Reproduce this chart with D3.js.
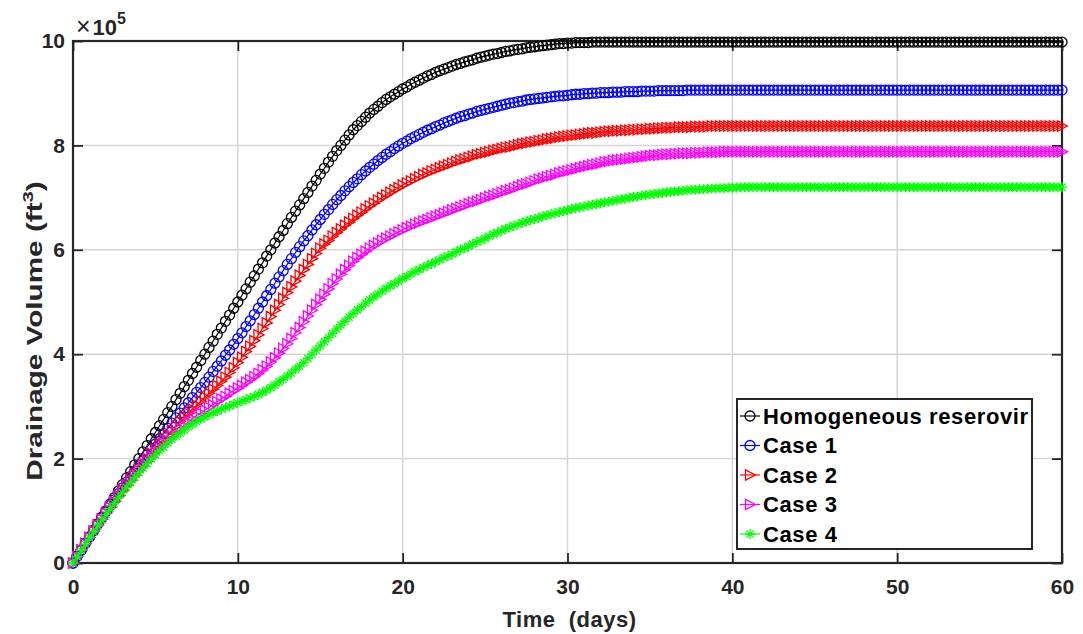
<!DOCTYPE html>
<html>
<head>
<meta charset="utf-8">
<script src="https://cdn.jsdelivr.net/npm/d3@7/dist/d3.min.js"></script>
<style>
  body { margin: 0; background: #ffffff; }
  svg { display: block; }
</style>
</head>
<body>
<svg id="chart" width="1083" height="634"></svg>
<script>
// Drainage volume (x 1e5 ft^3) sampled every quarter day from 0 to 60 days
const timeStep = 0.25;

const homogeneous = [
  0.00,0.13,0.25,0.38,0.50,0.63,0.75,0.88,
  1.00,1.13,1.25,1.38,1.50,1.63,1.75,1.88,
  2.00,2.13,2.25,2.38,2.50,2.63,2.75,2.88,
  3.00,3.13,3.25,3.38,3.50,3.63,3.75,3.88,
  4.00,4.13,4.25,4.38,4.50,4.63,4.75,4.88,
  5.00,5.13,5.25,5.38,5.50,5.63,5.75,5.88,
  6.00,6.13,6.25,6.37,6.50,6.62,6.74,6.86,
  6.98,7.10,7.22,7.33,7.45,7.56,7.68,7.79,
  7.90,8.00,8.10,8.20,8.30,8.38,8.46,8.54,
  8.62,8.69,8.75,8.82,8.88,8.93,8.98,9.03,
  9.08,9.12,9.17,9.21,9.25,9.29,9.33,9.36,
  9.40,9.43,9.46,9.49,9.52,9.55,9.57,9.60,
  9.62,9.64,9.67,9.69,9.71,9.73,9.75,9.76,
  9.78,9.80,9.81,9.83,9.84,9.85,9.87,9.88,
  9.89,9.90,9.91,9.92,9.93,9.94,9.95,9.95,
  9.96,9.96,9.97,9.97,9.97,9.97,9.98,9.98,
  9.98,9.98,9.98,9.98,9.98,9.98,9.98,9.98,
  9.98,9.98,9.98,9.98,9.98,9.98,9.98,9.98,
  9.98,9.98,9.98,9.98,9.98,9.98,9.98,9.98,
  9.98,9.98,9.98,9.98,9.98,9.98,9.98,9.98,
  9.98,9.98,9.98,9.98,9.98,9.98,9.98,9.98,
  9.98,9.98,9.98,9.98,9.98,9.98,9.98,9.98,
  9.98,9.98,9.98,9.98,9.98,9.98,9.98,9.98,
  9.98,9.98,9.98,9.98,9.98,9.98,9.98,9.98,
  9.98,9.98,9.98,9.98,9.98,9.98,9.98,9.98,
  9.98,9.98,9.98,9.98,9.98,9.98,9.98,9.98,
  9.98,9.98,9.98,9.98,9.98,9.98,9.98,9.98,
  9.98,9.98,9.98,9.98,9.98,9.98,9.98,9.98,
  9.98,9.98,9.98,9.98,9.98,9.98,9.98,9.98,
  9.98,9.98,9.98,9.98,9.98,9.98,9.98,9.98,
  9.98
];

const case1 = [
  0.00,0.13,0.25,0.38,0.50,0.62,0.74,0.86,
  0.98,1.10,1.21,1.33,1.44,1.55,1.66,1.76,
  1.87,1.97,2.07,2.18,2.28,2.38,2.48,2.58,
  2.68,2.78,2.87,2.97,3.07,3.17,3.27,3.36,
  3.46,3.56,3.67,3.77,3.87,3.98,4.08,4.19,
  4.30,4.41,4.53,4.64,4.76,4.88,5.00,5.12,
  5.24,5.36,5.48,5.60,5.72,5.83,5.95,6.06,
  6.17,6.27,6.38,6.48,6.58,6.68,6.77,6.87,
  6.96,7.04,7.13,7.21,7.29,7.36,7.44,7.51,
  7.58,7.64,7.71,7.77,7.83,7.88,7.94,7.99,
  8.04,8.08,8.13,8.17,8.21,8.25,8.29,8.32,
  8.36,8.39,8.43,8.46,8.49,8.52,8.55,8.57,
  8.60,8.62,8.65,8.67,8.69,8.71,8.73,8.75,
  8.77,8.79,8.81,8.82,8.84,8.85,8.87,8.88,
  8.89,8.90,8.91,8.92,8.93,8.94,8.95,8.95,
  8.96,8.97,8.98,8.98,8.99,8.99,9.00,9.00,
  9.01,9.01,9.01,9.02,9.02,9.02,9.03,9.03,
  9.03,9.03,9.04,9.04,9.04,9.04,9.05,9.05,
  9.05,9.05,9.05,9.05,9.05,9.06,9.06,9.06,
  9.06,9.06,9.06,9.06,9.06,9.06,9.06,9.06,
  9.06,9.06,9.06,9.06,9.06,9.06,9.06,9.06,
  9.06,9.06,9.06,9.06,9.06,9.06,9.06,9.06,
  9.06,9.06,9.06,9.06,9.06,9.06,9.06,9.06,
  9.06,9.06,9.06,9.06,9.06,9.06,9.06,9.06,
  9.06,9.06,9.06,9.06,9.06,9.06,9.06,9.06,
  9.06,9.06,9.06,9.06,9.06,9.06,9.06,9.06,
  9.06,9.06,9.06,9.06,9.06,9.06,9.06,9.06,
  9.06,9.06,9.06,9.06,9.06,9.06,9.06,9.06,
  9.06,9.06,9.06,9.06,9.06,9.06,9.06,9.06,
  9.06,9.06,9.06,9.06,9.06,9.06,9.06,9.06,
  9.06
];

const case2 = [
  0.00,0.12,0.25,0.37,0.49,0.61,0.73,0.84,
  0.96,1.07,1.18,1.29,1.40,1.50,1.61,1.71,
  1.81,1.91,2.00,2.10,2.19,2.28,2.37,2.45,
  2.54,2.62,2.71,2.79,2.87,2.95,3.02,3.10,
  3.18,3.25,3.33,3.40,3.48,3.56,3.65,3.74,
  3.84,3.94,4.05,4.15,4.26,4.37,4.49,4.60,
  4.72,4.84,4.95,5.07,5.18,5.29,5.40,5.51,
  5.62,5.72,5.83,5.93,6.03,6.11,6.18,6.26,
  6.33,6.40,6.47,6.53,6.60,6.66,6.72,6.78,
  6.84,6.89,6.95,7.00,7.05,7.10,7.15,7.19,
  7.24,7.28,7.32,7.36,7.40,7.44,7.47,7.51,
  7.54,7.57,7.60,7.63,7.66,7.69,7.72,7.74,
  7.77,7.79,7.82,7.84,7.86,7.88,7.90,7.92,
  7.94,7.96,7.97,7.99,8.01,8.03,8.04,8.06,
  8.07,8.09,8.10,8.12,8.13,8.14,8.16,8.17,
  8.18,8.19,8.20,8.21,8.22,8.23,8.24,8.24,
  8.25,8.26,8.27,8.27,8.28,8.28,8.29,8.29,
  8.30,8.30,8.31,8.31,8.32,8.32,8.33,8.33,
  8.34,8.34,8.34,8.35,8.35,8.35,8.35,8.36,
  8.36,8.36,8.36,8.37,8.37,8.37,8.37,8.37,
  8.37,8.37,8.37,8.37,8.37,8.37,8.37,8.37,
  8.37,8.37,8.37,8.37,8.37,8.37,8.37,8.37,
  8.37,8.37,8.37,8.37,8.37,8.37,8.37,8.37,
  8.37,8.37,8.37,8.37,8.37,8.37,8.37,8.37,
  8.37,8.37,8.37,8.37,8.37,8.37,8.37,8.37,
  8.37,8.37,8.37,8.37,8.37,8.37,8.37,8.37,
  8.37,8.37,8.37,8.37,8.37,8.37,8.37,8.37,
  8.37,8.37,8.37,8.37,8.37,8.37,8.37,8.37,
  8.37,8.37,8.37,8.37,8.37,8.37,8.37,8.37,
  8.37,8.37,8.37,8.37,8.37,8.37,8.37,8.37,
  8.37
];

const case3 = [
  0.00,0.12,0.25,0.37,0.49,0.61,0.72,0.84,
  0.95,1.06,1.17,1.27,1.38,1.48,1.58,1.67,
  1.77,1.86,1.95,2.03,2.12,2.20,2.28,2.35,
  2.43,2.50,2.57,2.63,2.70,2.76,2.82,2.87,
  2.93,2.98,3.03,3.09,3.14,3.19,3.25,3.30,
  3.35,3.40,3.46,3.51,3.57,3.63,3.70,3.77,
  3.85,3.93,4.02,4.11,4.20,4.30,4.41,4.51,
  4.62,4.73,4.84,4.95,5.05,5.15,5.25,5.35,
  5.44,5.53,5.62,5.70,5.78,5.85,5.91,5.97,
  6.03,6.08,6.13,6.18,6.22,6.26,6.30,6.34,
  6.38,6.42,6.45,6.49,6.52,6.55,6.58,6.61,
  6.64,6.67,6.70,6.73,6.76,6.79,6.82,6.85,
  6.88,6.91,6.93,6.96,6.99,7.02,7.04,7.07,
  7.10,7.13,7.15,7.18,7.21,7.24,7.26,7.29,
  7.32,7.35,7.37,7.40,7.42,7.44,7.47,7.49,
  7.51,7.53,7.55,7.57,7.59,7.61,7.63,7.64,
  7.66,7.68,7.69,7.71,7.72,7.73,7.74,7.75,
  7.76,7.77,7.78,7.79,7.80,7.81,7.81,7.82,
  7.83,7.83,7.84,7.84,7.85,7.85,7.85,7.86,
  7.86,7.86,7.87,7.87,7.87,7.87,7.88,7.88,
  7.88,7.88,7.88,7.88,7.88,7.88,7.88,7.88,
  7.88,7.88,7.88,7.88,7.88,7.88,7.88,7.88,
  7.88,7.88,7.88,7.88,7.88,7.88,7.88,7.88,
  7.88,7.88,7.88,7.88,7.88,7.88,7.88,7.88,
  7.88,7.88,7.88,7.88,7.88,7.88,7.88,7.88,
  7.88,7.88,7.88,7.88,7.88,7.88,7.88,7.88,
  7.88,7.88,7.88,7.88,7.88,7.88,7.88,7.88,
  7.88,7.88,7.88,7.88,7.88,7.88,7.88,7.88,
  7.88,7.88,7.88,7.88,7.88,7.88,7.88,7.88,
  7.88,7.88,7.88,7.88,7.88,7.88,7.88,7.88,
  7.88
];

const case4 = [
  0.00,0.12,0.24,0.36,0.48,0.59,0.71,0.82,
  0.93,1.04,1.14,1.25,1.35,1.45,1.54,1.64,
  1.73,1.82,1.90,1.99,2.07,2.15,2.22,2.30,
  2.37,2.43,2.49,2.55,2.61,2.66,2.71,2.76,
  2.80,2.84,2.88,2.91,2.95,2.98,3.01,3.04,
  3.07,3.10,3.13,3.16,3.19,3.23,3.27,3.31,
  3.36,3.41,3.47,3.52,3.58,3.64,3.71,3.77,
  3.84,3.92,4.00,4.08,4.16,4.24,4.32,4.40,
  4.48,4.56,4.63,4.71,4.78,4.85,4.91,4.98,
  5.04,5.10,5.15,5.21,5.26,5.31,5.35,5.40,
  5.45,5.49,5.54,5.58,5.62,5.66,5.70,5.73,
  5.77,5.81,5.85,5.88,5.92,5.96,6.00,6.03,
  6.07,6.11,6.15,6.18,6.22,6.26,6.30,6.33,
  6.37,6.40,6.43,6.46,6.49,6.52,6.54,6.57,
  6.59,6.61,6.64,6.66,6.68,6.70,6.72,6.74,
  6.76,6.78,6.80,6.81,6.83,6.85,6.86,6.88,
  6.89,6.91,6.92,6.94,6.95,6.97,6.98,7.00,
  7.01,7.02,7.04,7.05,7.06,7.07,7.08,7.09,
  7.10,7.11,7.12,7.12,7.13,7.14,7.15,7.15,
  7.16,7.16,7.17,7.17,7.18,7.18,7.18,7.19,
  7.19,7.19,7.20,7.20,7.20,7.20,7.20,7.20,
  7.20,7.20,7.20,7.20,7.20,7.20,7.20,7.20,
  7.20,7.20,7.20,7.20,7.20,7.20,7.20,7.20,
  7.20,7.20,7.20,7.20,7.20,7.20,7.20,7.20,
  7.20,7.20,7.20,7.20,7.20,7.20,7.20,7.20,
  7.20,7.20,7.20,7.20,7.20,7.20,7.20,7.20,
  7.20,7.20,7.20,7.20,7.20,7.20,7.20,7.20,
  7.20,7.20,7.20,7.20,7.20,7.20,7.20,7.20,
  7.20,7.20,7.20,7.20,7.20,7.20,7.20,7.20,
  7.20,7.20,7.20,7.20,7.20,7.20,7.20,7.20,
  7.20
];

const seriesNames   = ["Homogeneous reserovir", "Case 1", "Case 2", "Case 3", "Case 4"];
const seriesValues  = [homogeneous, case1, case2, case3, case4];
const seriesColors  = ["#000000", "#0000ff", "#ff0000", "#ff00ff", "#00ff00"];
const seriesMarkers = ["circle", "circle", "triangle", "triangle", "asterisk"];

const xTicks = [0, 10, 20, 30, 40, 50, 60];
const yTicks = [0, 2, 4, 6, 8, 10];
const xLabel = "Time  (days)";
const yLabel = "Drainage Volume (ft";
const yLabelSup = "3";
const yLabelEnd = ")";

// ---- layout ----
const svg = d3.select("#chart");
const plot = { left: 73, right: 1062, top: 41, bottom: 563 };
const axisColor = "#262626";
const fontFamily = "'Liberation Sans', Arial, Helvetica, sans-serif";

const x = d3.scaleLinear().domain([0, 60]).range([plot.left, plot.right]);
const y = d3.scaleLinear().domain([0, 10]).range([plot.bottom, plot.top]);

svg.append("rect").attr("width", 1083).attr("height", 634).attr("fill", "#ffffff");

// grid
const grid = svg.append("g").attr("stroke", "#d6d6d6").attr("stroke-width", 1.5);
grid.selectAll("line.gx").data(xTicks.slice(1, -1)).join("line")
  .attr("x1", d => x(d)).attr("x2", d => x(d))
  .attr("y1", plot.top).attr("y2", plot.bottom);
grid.selectAll("line.gy").data(yTicks.slice(1, -1)).join("line")
  .attr("x1", plot.left).attr("x2", plot.right)
  .attr("y1", d => y(d)).attr("y2", d => y(d));

// axes with inward ticks on all four sides
function styleAxis(g) {
  g.select(".domain").remove();
  g.selectAll(".tick line").attr("stroke", axisColor).attr("stroke-width", 1.8);
  g.selectAll(".tick text")
    .attr("fill", axisColor)
    .style("font-family", fontFamily)
    .style("font-weight", "bold")
    .style("font-size", "21px");
}

svg.append("g").attr("transform", `translate(0,${plot.bottom})`)
  .call(d3.axisBottom(x).tickValues(xTicks).tickSizeInner(-10).tickSizeOuter(0).tickPadding(16))
  .call(styleAxis);
svg.append("g").attr("transform", `translate(0,${plot.top})`)
  .call(d3.axisTop(x).tickValues(xTicks).tickSizeInner(-10).tickSizeOuter(0).tickFormat(""))
  .call(styleAxis);
svg.append("g").attr("transform", `translate(${plot.left},0)`)
  .call(d3.axisLeft(y).tickValues(yTicks).tickSizeInner(-10).tickSizeOuter(0).tickPadding(8))
  .call(styleAxis);
svg.append("g").attr("transform", `translate(${plot.right},0)`)
  .call(d3.axisRight(y).tickValues(yTicks).tickSizeInner(-10).tickSizeOuter(0).tickFormat(""))
  .call(styleAxis);

// axes box
svg.append("rect")
  .attr("x", plot.left).attr("y", plot.top)
  .attr("width", plot.right - plot.left).attr("height", plot.bottom - plot.top)
  .attr("fill", "none").attr("stroke", axisColor).attr("stroke-width", 2.2);

// exponent multiplier above the y axis
const expo = svg.append("text")
  .attr("x", 76).attr("y", 35)
  .attr("fill", axisColor)
  .style("font-family", fontFamily)
  .style("font-size", "22px");
expo.append("tspan").text("\u00d7").style("font-weight", "normal").style("font-size", "25px");
expo.append("tspan").text("10").attr("dx", 2).style("font-weight", "bold");
expo.append("tspan").text("5").attr("dy", -11).style("font-size", "16px").style("font-weight", "bold");

// axis titles
svg.append("text")
  .attr("x", (plot.left + plot.right) / 2 + 2).attr("y", 627)
  .attr("text-anchor", "middle")
  .attr("fill", axisColor)
  .style("white-space", "pre")
  .style("letter-spacing", "0.5px")
  .style("font-family", fontFamily).style("font-weight", "bold").style("font-size", "22px")
  .text(xLabel);

// y title is drawn elongated along its reading direction
const yt = svg.append("text")
  .attr("transform", "translate(42,331) rotate(-90) scale(1.35,1)")
  .attr("text-anchor", "middle")
  .attr("fill", axisColor)
  .style("font-family", fontFamily).style("font-weight", "bold").style("font-size", "22px");
yt.append("tspan").text(yLabel);
yt.append("tspan").text(yLabelSup).attr("dy", -9).style("font-size", "15px");
yt.append("tspan").text(yLabelEnd).attr("dy", 9);

// marker shapes
function markerPath(kind) {
  if (kind === "circle") {
    const r = 5;
    return `M${r},0A${r},${r} 0 1,1 ${-r},0A${r},${r} 0 1,1 ${r},0Z`;
  }
  if (kind === "triangle") {
    return "M5.5,0L-4.5,-5.2L-4.5,5.2Z";
  }
  const a = 5, b = 3.6;
  return `M${-a},0L${a},0M0,${-a}L0,${a}M${-b},${-b}L${b},${b}M${-b},${b}L${b},${-b}`;
}

const line = d3.line().x(d => x(d.t)).y(d => y(d.v));

seriesValues.forEach((vals, k) => {
  const pts = vals.map((v, i) => ({ t: i * timeStep, v }));
  const g = svg.append("g").attr("class", "series");
  g.append("path").datum(pts)
    .attr("d", line)
    .attr("fill", "none")
    .attr("stroke", seriesColors[k])
    .attr("stroke-width", 1.2);
  const shape = markerPath(seriesMarkers[k]);
  g.selectAll("path.mk").data(pts).join("path")
    .attr("class", "mk")
    .attr("transform", d => `translate(${x(d.t)},${y(d.v)})`)
    .attr("d", shape)
    .attr("fill", "none")
    .attr("stroke", seriesColors[k])
    .attr("stroke-width", 1.3);
});

// legend
const legend = svg.append("g");
const lg = { x: 737, y: 399, w: 295, h: 150, row: 29.5, first: 416 };
legend.append("rect")
  .attr("x", lg.x).attr("y", lg.y).attr("width", lg.w).attr("height", lg.h)
  .attr("fill", "#ffffff").attr("stroke", axisColor).attr("stroke-width", 2);

seriesNames.forEach((name, k) => {
  const cy = lg.first + k * lg.row;
  const row = legend.append("g");
  row.append("line")
    .attr("x1", lg.x + 3).attr("x2", lg.x + 23)
    .attr("y1", cy).attr("y2", cy)
    .attr("stroke", seriesColors[k]).attr("stroke-width", 1.2);
  row.append("path")
    .attr("transform", `translate(${lg.x + 13},${cy})`)
    .attr("d", markerPath(seriesMarkers[k]))
    .attr("fill", "none").attr("stroke", seriesColors[k]).attr("stroke-width", 1.3);
  row.append("text")
    .attr("x", lg.x + 26).attr("y", cy)
    .attr("dy", "0.36em")
    .attr("fill", "#000000")
    .style("letter-spacing", "0.6px")
    .style("font-family", fontFamily).style("font-weight", "bold").style("font-size", "22px")
    .text(name);
});
</script>
</body>
</html>
